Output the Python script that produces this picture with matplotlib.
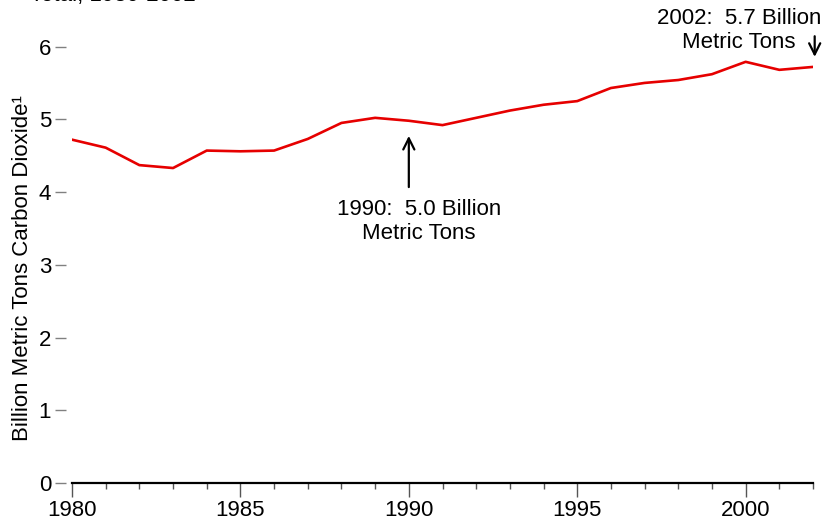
import matplotlib.pyplot as plt
import numpy as np

plt.rcParams['font.family'] = ['Liberation Sans', 'DejaVu Sans']

# Annual emissions, billion metric tons CO2
years = list(range(1980, 2003))
emissions = [4.72, 4.61, 4.37, 4.33, 4.57, 4.56, 4.57, 4.73, 4.95, 5.02,
             4.98, 4.92, 5.02, 5.12, 5.20, 5.25, 5.43, 5.50, 5.54, 5.62,
             5.79, 5.68, 5.72]
y_ticks = [0, 1, 2, 3, 4, 5, 6]
x_major = [1980, 1985, 1990, 1995, 2000]

fig = plt.figure(figsize=(8.27, 5.21), dpi=100)
ax = fig.add_axes([72 / 827, 38 / 521, 741 / 827, 483 / 521])

ax.plot(years, emissions, color='#e60000', lw=1.9)

ax.set_xlim(1980, 2002)
ax.set_ylim(0, 6.64)

# Spines: only a thick bottom axis line
for side in ['top', 'right']:
    ax.spines[side].set_visible(False)
ax.spines['left'].set_position(('outward', 4))
ax.spines['left'].set_visible(False)
ax.spines['bottom'].set_linewidth(1.6)

ax.set_yticks(y_ticks)
ax.tick_params(axis='y', length=8, width=1, color='#808080', pad=3, labelsize=16)
ax.set_xticks(x_major)
ax.set_xticks(years, minor=True)
ax.tick_params(axis='x', which='major', length=10, width=1, color='#555555',
               pad=2, labelsize=16)
ax.tick_params(axis='x', which='minor', length=4, width=1, color='#555555')

ax.set_ylabel('Billion Metric Tons Carbon Dioxide\u00b9', fontsize=16)
ax.yaxis.set_label_coords(-0.053, 0.445)

# Annotations
arrow = dict(arrowstyle='->,head_length=0.8,head_width=0.4', lw=1.6, color='black')
ax.annotate('', xy=(1990, 4.81), xytext=(1990, 4.03), arrowprops=arrow)
ax.text(1990.3, 3.6, '1990:  5.0 Billion\nMetric Tons', ha='center', va='center',
        fontsize=16, linespacing=1.2)
ax.annotate('', xy=(2002.05, 5.82), xytext=(2002.05, 6.18), arrowprops=arrow,
            annotation_clip=False)
ax.text(1999.8, 6.22, '2002:  5.7 Billion\nMetric Tons', ha='center', va='center',
        fontsize=16, linespacing=1.2)

# Heading above the frame (cut off at the top edge)
fig.text(30 / 827, 1 - 1 / 521, 'Total, 1980-2002', fontsize=16, va='baseline')

fig.savefig('out.png', dpi=100)
